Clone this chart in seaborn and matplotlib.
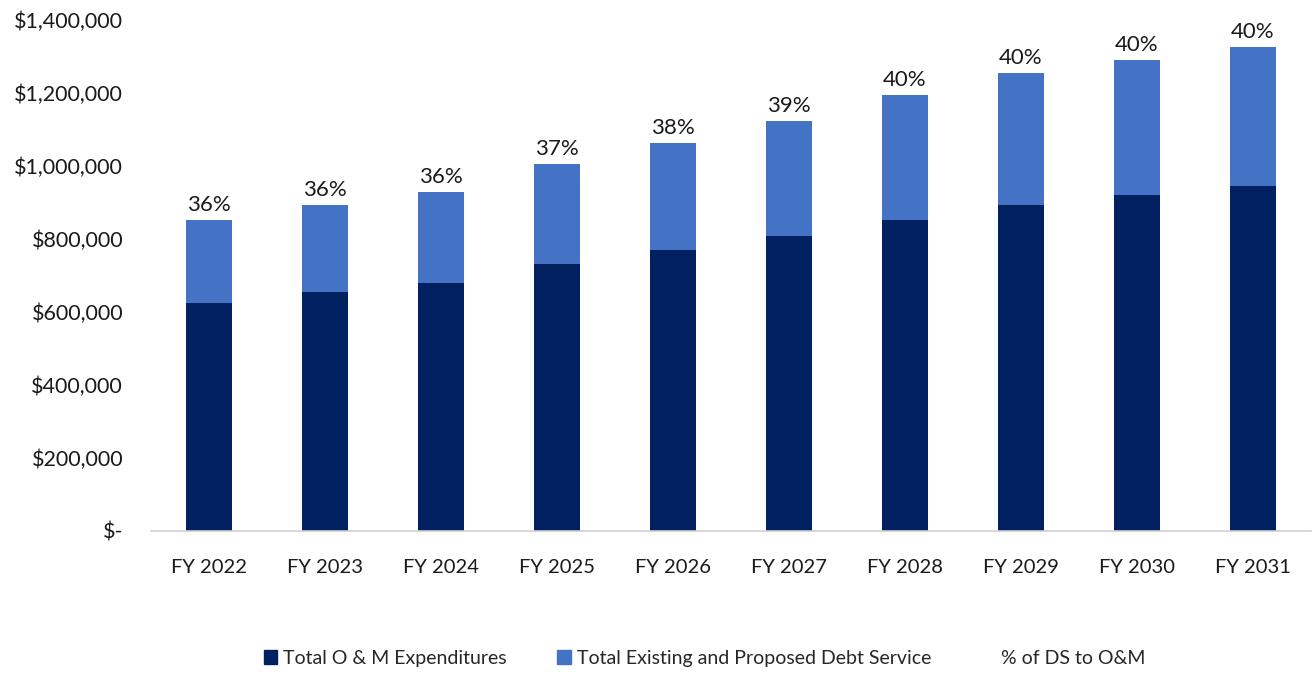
import numpy as np
import pandas as pd
import matplotlib
matplotlib.use("Agg")
import matplotlib.pyplot as plt
import seaborn as sns
from matplotlib.patches import Patch
from matplotlib.lines import Line2D
from matplotlib.ticker import FuncFormatter

# data
years = ['FY 2022', 'FY 2023', 'FY 2024', 'FY 2025', 'FY 2026',
         'FY 2027', 'FY 2028', 'FY 2029', 'FY 2030', 'FY 2031']
om_exp = [625000, 655000, 679000, 732000, 770000,
          808000, 852000, 893000, 921000, 945000]
debt_service = [227000, 238000, 250000, 273000, 293000,
                315000, 343000, 362000, 369000, 381000]
pct_labels = ['36%', '36%', '36%', '37%', '38%', '39%', '40%', '40%', '40%', '40%']

df = pd.DataFrame({'Year': years, 'OM': om_exp, 'DS': debt_service})
df['Total'] = df['OM'] + df['DS']

sns.set_theme(style='white')
plt.rcParams['font.family'] = ['Lato', 'DejaVu Sans']

dark = '#012060'
light = '#4472C4'

fig = plt.figure(figsize=(13.12, 6.73), dpi=100)
ax = fig.add_axes([0.115, 0.211, 0.884, 0.759])

sns.barplot(data=df, x='Year', y='Total', color=light, width=0.4,
            saturation=1, linewidth=0, ax=ax)
sns.barplot(data=df, x='Year', y='OM', color=dark, width=0.4,
            saturation=1, linewidth=0, ax=ax)

for i, row in df.iterrows():
    ax.text(i, row['Total'] + 14000, pct_labels[i], ha='center', va='bottom',
            fontsize=16, color='#1a1a1a')

ax.set_ylim(0, 1400000)
ax.set_xlim(-0.5, len(years) - 0.5)
ax.set_yticks(np.arange(0, 1400001, 200000))
ax.yaxis.set_major_formatter(FuncFormatter(
    lambda v, p: '$-' if v == 0 else f'${v:,.0f}'))
ax.tick_params(axis='y', labelsize=15.5, colors='#1a1a1a', length=0, pad=20)
ax.tick_params(axis='x', labelsize=14.5, colors='#1a1a1a', length=0, pad=20)
ax.set_xlabel('')
ax.set_ylabel('')
for s in ['top', 'right', 'left']:
    ax.spines[s].set_visible(False)
ax.spines['bottom'].set_color('#d0d0d0')
ax.spines['bottom'].set_linewidth(1.2)

handles = [Patch(color=dark), Patch(color=light),
           Line2D([], [], color='none')]
labels = ['Total O & M Expenditures', 'Total Existing and Proposed Debt Service',
          '% of DS to O&M']
fig.legend(handles, labels, loc='center', bbox_to_anchor=(0.537, 0.022),
           ncol=3, frameon=False, fontsize=14, handlelength=0.7,
           handleheight=0.7, columnspacing=2.6, handletextpad=0.3)

fig.savefig('out.png', dpi=100)
